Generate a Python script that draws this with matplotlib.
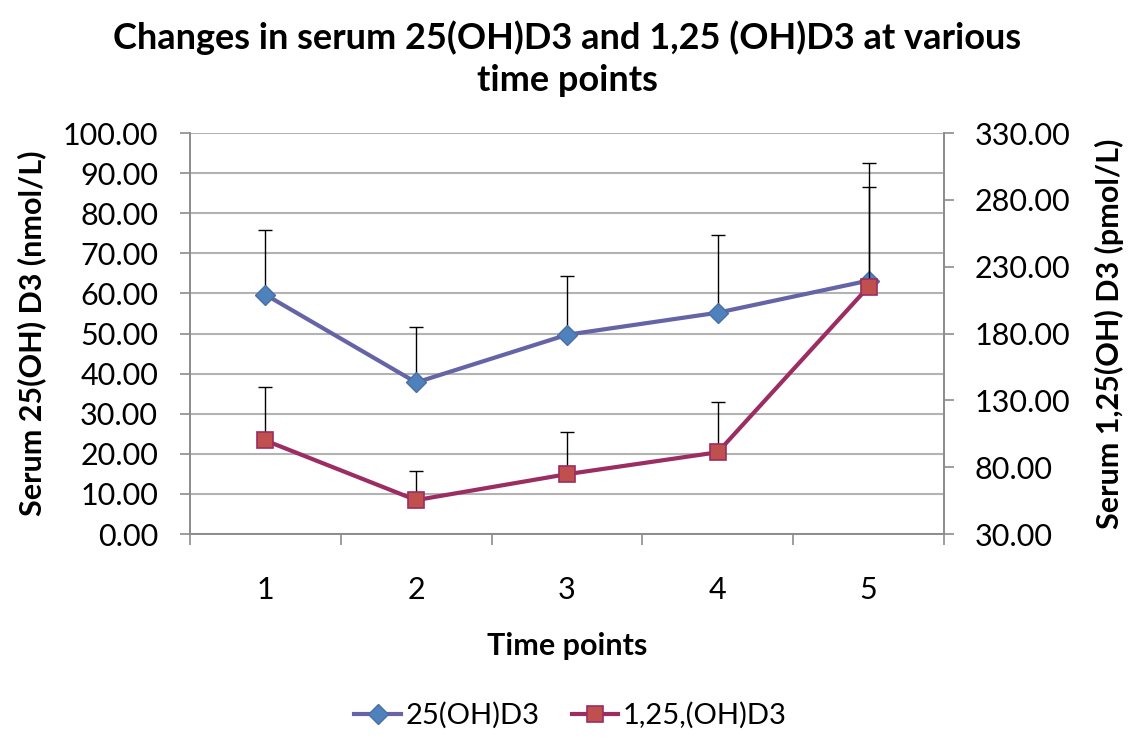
import matplotlib.pyplot as plt
from matplotlib.ticker import FormatStrFormatter, FixedLocator

plt.rcParams["font.family"] = ["Lato", "DejaVu Sans"]

time_points = [1, 2, 3, 4, 5]
oh_d3 = [59.7, 37.8, 49.7, 55.2, 63.2]
oh_d3_sd = [16.2, 13.9, 14.7, 19.4, 29.3]
di_oh_d3 = [100.0, 55.4, 74.8, 91.2, 215.0]
di_oh_d3_sd = [39.7, 21.6, 31.2, 37.3, 74.7]

left_ticks = [0, 10, 20, 30, 40, 50, 60, 70, 80, 90, 100]
right_ticks = [30, 80, 130, 180, 230, 280, 330]

grid_color = "#B3B3B3"
spine_color = "#8C8C8C"

fig = plt.figure(figsize=(11.41, 7.39), dpi=100)
ax = fig.add_axes([0.1665, 0.2773, 0.6608, 0.5427])
ax2 = ax.twinx()

ax.errorbar(time_points, oh_d3, yerr=[[0] * 5, oh_d3_sd], fmt="none",
            ecolor="black", elinewidth=1, capsize=5, capthick=1, zorder=2)
line1, = ax.plot(time_points, oh_d3, color="#6464A6", linewidth=3,
                 marker="D", markersize=10, markerfacecolor="#4F81BD",
                 markeredgecolor="#4A6FA5", markeredgewidth=1, zorder=3,
                 label="25(OH)D3")

ax2.errorbar(time_points, di_oh_d3, yerr=[[0] * 5, di_oh_d3_sd], fmt="none",
             ecolor="black", elinewidth=1, capsize=5, capthick=1, zorder=2)
line2, = ax2.plot(time_points, di_oh_d3, color="#9B2D62", linewidth=3,
                  marker="s", markersize=11, markerfacecolor="#C0504D",
                  markeredgecolor="#9B2D62", markeredgewidth=1.2, zorder=3,
                  label="1,25,(OH)D3")

ax.set_xlim(0.5, 5.5)
ax.set_ylim(0, 100)
ax2.set_ylim(30, 330)
ax.set_yticks(left_ticks)
ax2.set_yticks(right_ticks)
ax.yaxis.set_major_formatter(FormatStrFormatter("%.2f"))
ax2.yaxis.set_major_formatter(FormatStrFormatter("%.2f"))

ax.set_xticks(time_points)
ax.set_xticklabels([str(t) for t in time_points])
ax.xaxis.set_minor_locator(FixedLocator([0.5, 1.5, 2.5, 3.5, 4.5, 5.5]))
ax.tick_params(axis="x", which="major", length=0, pad=30, labelsize=22)
ax.tick_params(axis="x", which="minor", length=8, width=1.2,
               color=spine_color, direction="out")
ax.tick_params(axis="y", length=7, width=1.2, color=spine_color,
               labelsize=22, pad=16)
ax2.tick_params(axis="y", length=7, width=1.2, color=spine_color,
                labelsize=22, pad=15)

ax.grid(True, axis="y", color=grid_color, linewidth=1.5)
ax.set_axisbelow(True)

for a in (ax, ax2):
    a.spines["top"].set_visible(False)
    for side in ("left", "right", "bottom"):
        a.spines[side].set_color(spine_color)
        a.spines[side].set_linewidth(1.2)

ax.set_title("Changes in serum 25(OH)D3 and 1,25 (OH)D3 at various\ntime points",
             fontsize=26, fontweight="bold", pad=30, linespacing=1.35)
ax.set_xlabel("Time points", fontsize=22, fontweight="bold", labelpad=20)
ax.set_ylabel("Serum 25(OH) D3 (nmol/L)", fontsize=22, fontweight="bold",
              labelpad=12)
ax2.set_ylabel("Serum 1,25(OH) D3 (pmol/L)", fontsize=22, fontweight="bold",
               labelpad=18)

fig.legend(handles=[line1, line2], loc="center", bbox_to_anchor=(0.5, 0.032),
           ncol=2, frameon=False, fontsize=21, handlelength=1.6,
           columnspacing=1.1, handletextpad=0.15)

fig.savefig("out.png", dpi=100)
